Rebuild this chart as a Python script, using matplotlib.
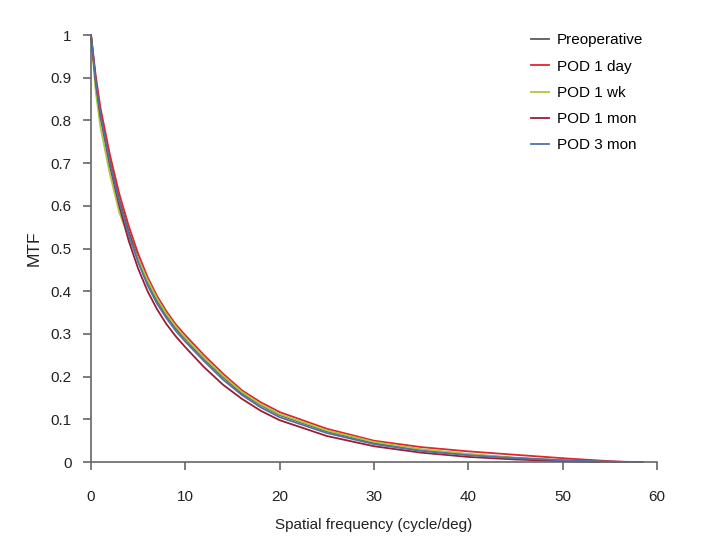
import matplotlib
matplotlib.use("Agg")
import matplotlib.pyplot as plt
import numpy as np

plt.rcParams['font.family'] = ['Liberation Sans', 'DejaVu Sans']

# spatial frequency (cycle/deg) sample points
freq = [0, 0.5, 1, 2, 3, 4, 5, 6, 7, 8, 9, 10, 12, 14, 16, 18, 20, 25, 30, 35, 40, 45, 50, 55]

preop = [1.0, 0.895, 0.818, 0.705, 0.614, 0.54, 0.476, 0.422, 0.378, 0.343, 0.313, 0.288,
         0.241, 0.199, 0.161, 0.133, 0.11, 0.072, 0.045, 0.029, 0.018, 0.010, 0.004, 0.001]
pod_1day = [1.0, 0.905, 0.83, 0.72, 0.628, 0.553, 0.488, 0.433, 0.389, 0.353, 0.322, 0.297,
            0.25, 0.207, 0.168, 0.14, 0.117, 0.078, 0.050, 0.035, 0.025, 0.017, 0.009, 0.002]
pod_1wk = [1.0, 0.868, 0.785, 0.675, 0.585, 0.525, 0.475, 0.426, 0.383, 0.347, 0.317, 0.291,
           0.244, 0.202, 0.164, 0.135, 0.112, 0.074, 0.047, 0.030, 0.019, 0.009, 0.003, 0.0]
pod_1mon = [1.0, 0.89, 0.81, 0.695, 0.60, 0.518, 0.453, 0.400, 0.358, 0.323, 0.294, 0.269,
            0.222, 0.181, 0.148, 0.120, 0.098, 0.061, 0.037, 0.022, 0.012, 0.006, 0.002, 0.0]
pod_3mon = [1.0, 0.892, 0.815, 0.70, 0.609, 0.533, 0.468, 0.414, 0.371, 0.337, 0.307, 0.282,
            0.236, 0.193, 0.157, 0.128, 0.105, 0.068, 0.042, 0.026, 0.016, 0.009, 0.004, 0.001]

# tail ends (where each curve reaches zero)
end_x = {'Preoperative': 56, 'POD 1 day': 57, 'POD 1 wk': 55, 'POD 1 mon': 54, 'POD 3 mon': 58.5}

series = [
    ('Preoperative', preop, '#5a5a5a'),
    ('POD 1 day', pod_1day, '#e3242b'),
    ('POD 1 wk', pod_1wk, '#a8c83a'),
    ('POD 1 mon', pod_1mon, '#9c1c33'),
    ('POD 3 mon', pod_3mon, '#4f72a8'),
]

fig = plt.figure(figsize=(7.25, 5.56), dpi=100)
ax = fig.add_axes([0.1255, 0.169, 0.7805, 0.768])

for name, vals, col in series:
    xs = list(freq)
    ys = list(vals)
    if end_x[name] > xs[-1]:
        xs.append(end_x[name])
        ys.append(0.0)
    elif end_x[name] < xs[-1]:
        xs[-1] = end_x[name]
    ax.plot(xs, ys, color=col, lw=1.3, label=name, clip_on=False)

ax.set_xlim(0, 60)
ax.set_ylim(0, 1.0)
ax.set_xticks(range(0, 61, 10))
ax.set_yticks(np.arange(0, 1.01, 0.1))
ax.set_yticklabels(['0', '0.1', '0.2', '0.3', '0.4', '0.5', '0.6', '0.7', '0.8', '0.9', '1'])

for s in ['top', 'right']:
    ax.spines[s].set_visible(False)
for s in ['left', 'bottom']:
    ax.spines[s].set_color('#666666')
    ax.spines[s].set_linewidth(1.2)
ax.tick_params(axis='x', direction='out', length=6, width=1.2, color='#666666',
               labelsize=11, pad=14, labelcolor='#222222')
ax.tick_params(axis='y', direction='out', length=6, width=1.2, color='#666666',
               labelsize=11, pad=8, labelcolor='#222222')

ax.set_xlabel('Spatial frequency (cycle/deg)', fontsize=11, color='#222222', labelpad=10)
ax.set_ylabel('MTF', fontsize=12.5, color='#222222', labelpad=6)

leg = ax.legend(loc='upper right', bbox_to_anchor=(1.0, 1.036), frameon=False,
                fontsize=11, handlelength=1.2, handletextpad=0.5, labelspacing=0.8)

fig.savefig('out.png', dpi=100)
